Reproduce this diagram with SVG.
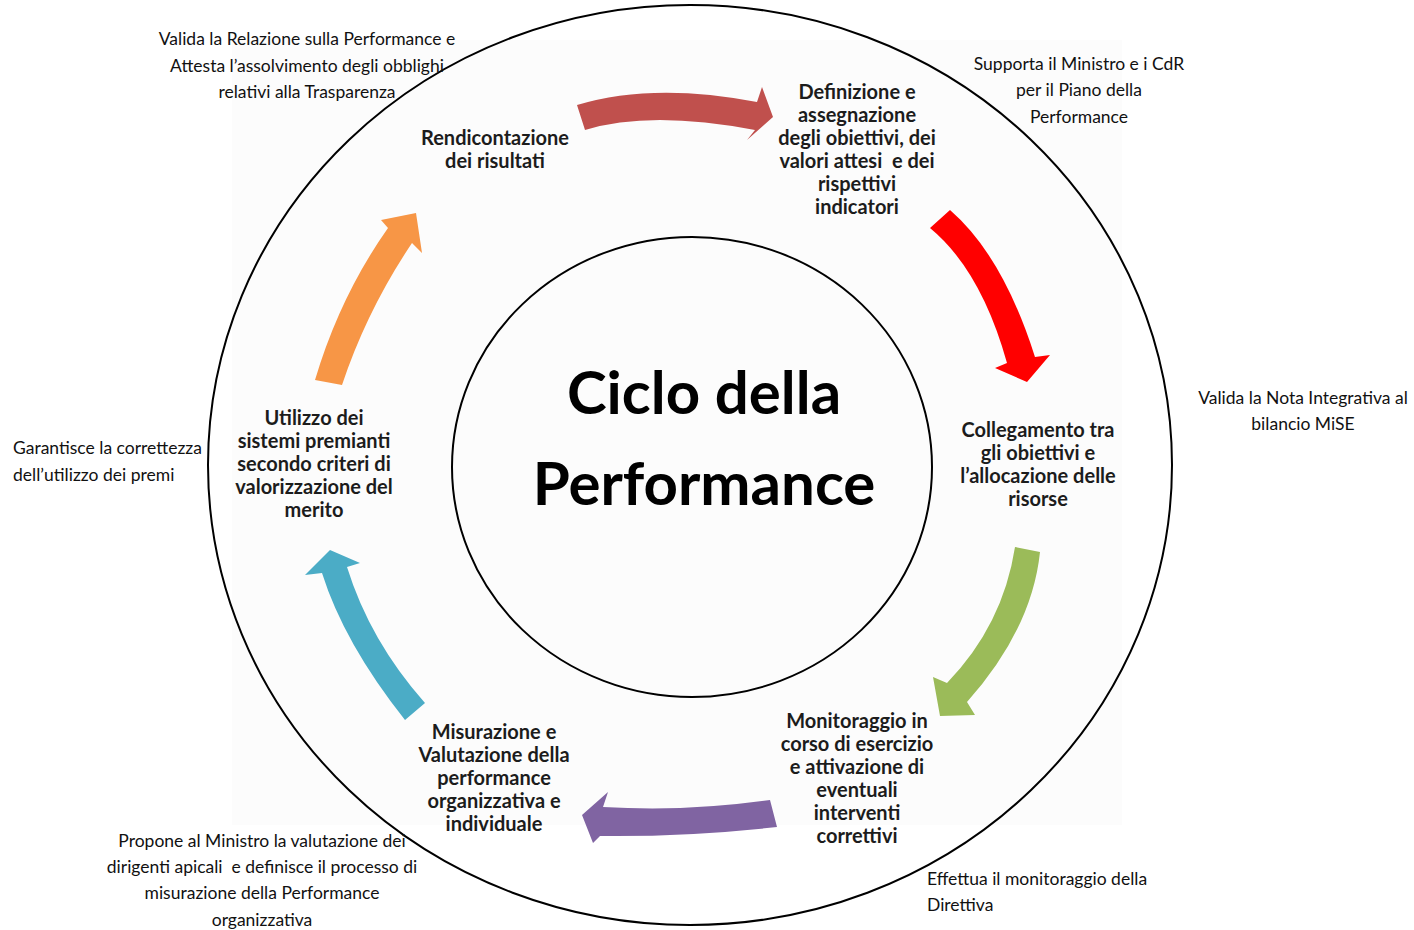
<svg xmlns="http://www.w3.org/2000/svg" width="1414" height="930" viewBox="0 0 1414 930">
<style>
text{white-space:pre}
.node{font-family:Lato,"Liberation Sans",sans-serif;font-weight:bold;font-size:20px;fill:#1c1c1c;text-anchor:middle}
.note{font-family:Lato,"Liberation Sans",sans-serif;font-size:17.5px;fill:#111}
.c{text-anchor:middle}
.title{font-family:Lato,"Liberation Sans",sans-serif;font-weight:bold;font-size:60px;fill:#000;text-anchor:middle}
.ring{fill:none;stroke:#000;stroke-width:2}
</style>
<rect width="1414" height="930" fill="#fff"/>
<rect x="232" y="40" width="890" height="785" fill="#fcfcfc"/>
<g id="outer-ring"><ellipse class="ring" cx="690" cy="465" rx="482" ry="460"/></g>
<g id="center">
<ellipse class="ring" cx="692" cy="467" rx="240" ry="230" fill="#fff"/>
<text class="title" x="704" y="414">Ciclo della</text>
<text class="title" x="704" y="505">Performance</text>
</g>
<g id="connectors">
<path d="M577,105 Q653,82 757,102 L762,87 L773,117 L747,140 L755,130 Q650,110 585,130 Z" fill="#C0504D"/>
<path d="M950,210 Q1003,256 1035,357 L1050,355 L1027,382 L995,368 L1007,363 Q981,270 930,228 Z" fill="#FF0000"/>
<path d="M1015,547 L1040,552 Q1032,629 967,702 L975,715 L940,716 L933,677 L947,683 Q1003,625 1015,547 Z" fill="#9BBB59"/>
<path d="M770,800 L777,827 Q687,837 600,836 L593,843 L582,815 L608,792 L603,807 Q687,812 770,800 Z" fill="#8064A2"/>
<path d="M405,720 Q344,643 322,573 L305,575 L330,550 L360,563 L347,567 Q370,641 425,703 Z" fill="#4BACC6"/>
<path d="M315,380 Q340,296 388,228 L381,220 L416,213 L422,253 L412,243 Q367,310 342,385 Z" fill="#F79646"/>
</g>
<g id="node-rendicontazione"><text class="node" x="495" y="145">Rendicontazione</text><text class="node" x="495" y="168">dei risultati</text></g>
<g id="node-definizione"><text class="node" x="857" y="99">Definizione e</text><text class="node" x="857" y="122">assegnazione</text><text class="node" x="857" y="145">degli obiettivi, dei</text><text class="node" x="857" y="168">valori attesi  e dei</text><text class="node" x="857" y="191">rispettivi</text><text class="node" x="857" y="214">indicatori</text></g>
<g id="node-collegamento"><text class="node" x="1038" y="437">Collegamento tra</text><text class="node" x="1038" y="460">gli obiettivi e</text><text class="node" x="1038" y="483">l’allocazione delle</text><text class="node" x="1038" y="506">risorse</text></g>
<g id="node-monitoraggio"><text class="node" x="857" y="728">Monitoraggio in</text><text class="node" x="857" y="751">corso di esercizio</text><text class="node" x="857" y="774">e attivazione di</text><text class="node" x="857" y="797">eventuali</text><text class="node" x="857" y="820">interventi</text><text class="node" x="857" y="843">correttivi</text></g>
<g id="node-misurazione"><text class="node" x="494" y="739">Misurazione e</text><text class="node" x="494" y="762">Valutazione della</text><text class="node" x="494" y="785">performance</text><text class="node" x="494" y="808">organizzativa e</text><text class="node" x="494" y="831">individuale</text></g>
<g id="node-utilizzo"><text class="node" x="314" y="425">Utilizzo dei</text><text class="node" x="314" y="448">sistemi premianti</text><text class="node" x="314" y="471">secondo criteri di</text><text class="node" x="314" y="494">valorizzazione del</text><text class="node" x="314" y="517">merito</text></g>
<g id="note-relazione"><text class="note c" x="307" y="45">Valida la Relazione sulla Performance e</text><text class="note c" x="307" y="72">Attesta l’assolvimento degli obblighi</text><text class="note c" x="307" y="98">relativi alla Trasparenza</text></g>
<g id="note-supporta"><text class="note c" x="1079" y="70">Supporta il Ministro e i CdR</text><text class="note c" x="1079" y="96">per il Piano della</text><text class="note c" x="1079" y="123">Performance</text></g>
<g id="note-nota"><text class="note c" x="1303" y="404">Valida la Nota Integrativa al</text><text class="note c" x="1303" y="430">bilancio MiSE</text></g>
<g id="note-garantisce"><text class="note" x="13" y="454">Garantisce la correttezza</text><text class="note" x="13" y="481">dell’utilizzo dei premi</text></g>
<g id="note-propone"><text class="note c" x="262" y="847">Propone al Ministro la valutazione dei</text><text class="note c" x="262" y="873">dirigenti apicali  e definisce il processo di</text><text class="note c" x="262" y="899">misurazione della Performance</text><text class="note c" x="262" y="926">organizzativa</text></g>
<g id="note-effettua"><text class="note" x="927" y="885">Effettua il monitoraggio della</text><text class="note" x="927" y="911">Direttiva</text></g>
</svg>
